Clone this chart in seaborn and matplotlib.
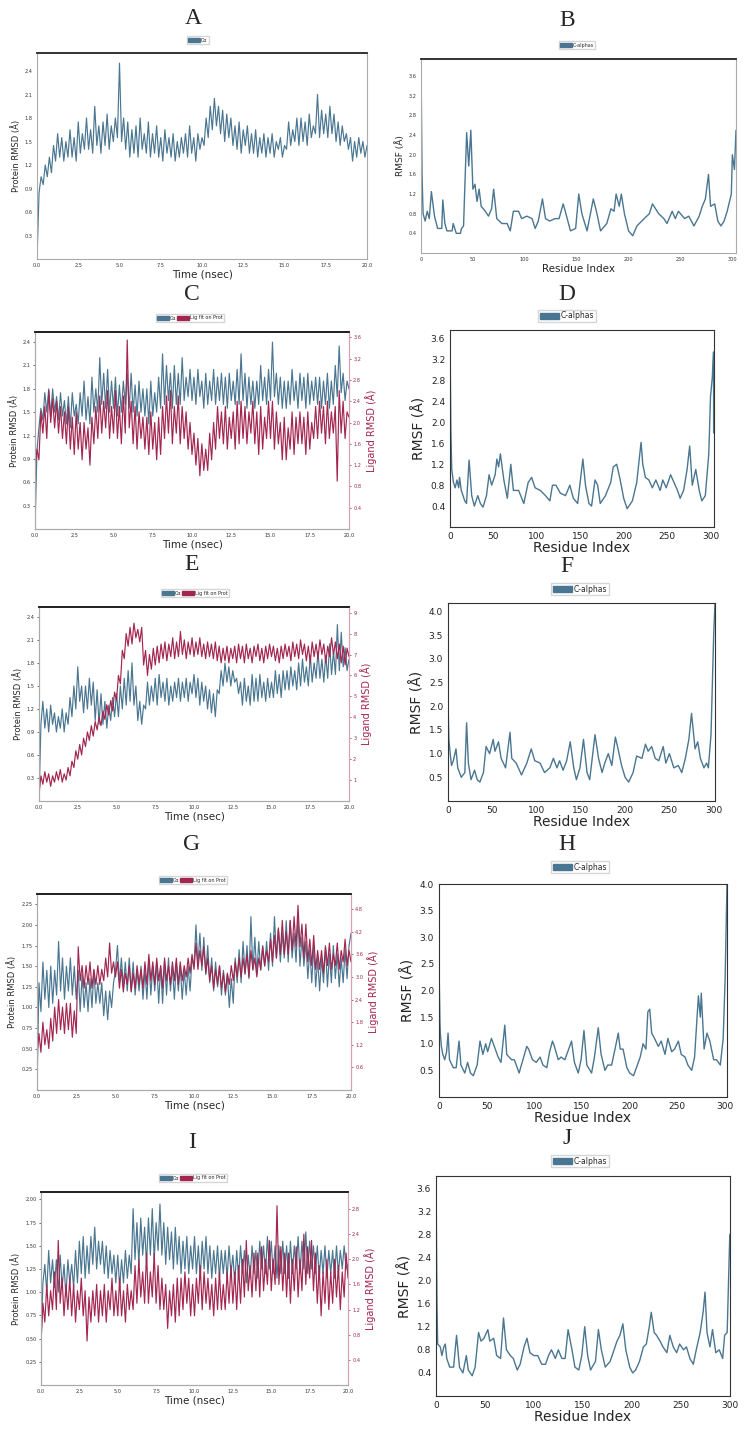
import numpy as np
import pandas as pd
import matplotlib
matplotlib.use("Agg")
import matplotlib.pyplot as plt
import matplotlib.patches as mpatches
import seaborn as sns

sns.set_style("white")
plt.rcParams['font.family'] = ['DejaVu Sans']

W, H = 747, 1433
PROT = '#4a7691'
LIG = '#a3264f'

# ---------------- RMSD data (0-20 ns, read every 0.125 ns; one row per ns) ----------------
rmsd_a = [0.0, 0.85, 1.05, 0.95, 1.2, 1.05, 1.3, 1.1,
          1.45, 1.25, 1.6, 1.3, 1.55, 1.25, 1.5, 1.3,
          1.65, 1.3, 1.55, 1.25, 1.75, 1.35, 1.6, 1.4,
          1.8, 1.4, 1.65, 1.35, 1.95, 1.45, 1.7, 1.35,
          1.75, 1.45, 1.85, 1.4, 1.7, 1.5, 1.8, 1.55,
          2.5, 1.5, 1.8, 1.4, 1.75, 1.3, 1.65, 1.35,
          1.7, 1.3, 1.8, 1.4, 1.6, 1.35, 1.75, 1.3,
          1.6, 1.35, 1.7, 1.3, 1.55, 1.25, 1.65, 1.35,
          1.55, 1.3, 1.6, 1.25, 1.5, 1.3, 1.55, 1.35,
          1.6, 1.3, 1.7, 1.35, 1.55, 1.25, 1.6, 1.4,
          1.55, 1.45, 1.8, 1.55, 1.95, 1.65, 2.05, 1.7,
          1.95, 1.6, 1.9, 1.5, 1.85, 1.55, 1.8, 1.45,
          1.7, 1.4, 1.75, 1.35, 1.65, 1.45, 1.7, 1.35,
          1.6, 1.35, 1.65, 1.3, 1.55, 1.35, 1.6, 1.3,
          1.55, 1.35, 1.6, 1.3, 1.5, 1.4, 1.55, 1.3,
          1.45, 1.4, 1.75, 1.45, 1.65, 1.5, 1.8, 1.45,
          1.8, 1.5, 1.75, 1.45, 1.85, 1.55, 1.7, 1.6,
          2.1, 1.55, 1.9, 1.6, 1.85, 1.55, 1.95, 1.6,
          1.85, 1.5, 1.75, 1.45, 1.7, 1.5, 1.6, 1.4,
          1.55, 1.25, 1.5, 1.3, 1.55, 1.35, 1.5, 1.3,
          1.45]

prot_c = [0.0, 1.0, 1.3, 1.55, 1.4, 1.75, 1.5, 1.8,
          1.45, 1.8, 1.5, 1.7, 1.4, 1.75, 1.45, 1.65,
          1.35, 1.7, 1.3, 1.75, 1.45, 1.6, 1.35, 1.75,
          1.45, 1.9, 1.4, 1.7, 1.35, 1.95, 1.5, 1.8,
          1.5, 2.2, 1.6, 2.0, 1.55, 2.05, 1.5, 1.9,
          1.55, 1.95, 1.45, 1.85, 1.5, 1.9, 1.6, 2.0,
          1.55, 2.0, 1.5, 1.85, 1.45, 1.9, 1.5, 1.8,
          1.45, 1.8, 1.35, 1.9, 1.45, 1.75, 1.5, 1.95,
          1.55, 2.25, 1.6, 2.1, 1.65, 2.0, 1.55, 2.1,
          1.6, 2.0, 1.6, 2.2, 1.65, 1.95, 1.7, 2.05,
          1.65, 1.95, 1.6, 2.05, 1.7, 1.9, 1.55, 2.0,
          1.6, 1.9, 1.65, 2.05, 1.6, 1.95, 1.65, 2.0,
          1.6, 1.95, 1.55, 2.0, 1.65, 1.9, 1.6, 2.05,
          1.6, 2.25, 1.65, 2.0, 1.55, 1.95, 1.6, 1.9,
          1.55, 1.9, 1.6, 2.1, 1.65, 1.95, 1.6, 2.05,
          1.65, 2.4, 1.7, 2.0, 1.6, 1.95, 1.55, 1.9,
          1.55, 1.9, 1.6, 2.05, 1.65, 1.9, 1.55, 2.0,
          1.65, 1.95, 1.55, 2.0, 1.6, 1.9, 1.65, 1.95,
          1.6, 1.95, 1.55, 1.9, 1.6, 2.0, 1.55, 1.9,
          1.6, 2.1, 1.7, 2.35, 1.75, 2.0, 1.65, 1.9,
          1.8]
lig_c = [1.1, 1.5, 1.3, 2.2, 1.8, 2.3, 1.7, 2.6,
         2.0, 2.45, 1.9, 2.4, 1.8, 2.3, 1.7, 2.2,
         1.6, 2.3, 1.5, 2.1, 1.4, 2.2, 1.5, 2.0,
         1.3, 2.0, 1.5, 1.9, 1.2, 2.1, 1.6, 2.3,
         1.7, 2.5, 1.8, 2.4, 1.9, 2.6, 1.7, 2.3,
         1.8, 2.6, 1.7, 2.3, 1.6, 2.5, 1.8, 3.55,
         1.9, 2.4, 1.6, 2.3, 1.5, 2.2, 1.7, 2.1,
         1.5, 2.1, 1.4, 2.2, 1.5, 2.0, 1.3, 2.1,
         1.4, 2.3, 1.7, 2.5, 1.8, 2.6, 1.6, 2.3,
         1.8, 2.5, 1.6, 2.3, 1.7, 2.2, 1.5, 2.0,
         1.4, 1.8, 1.2, 1.7, 1.0, 1.6, 1.1, 1.5,
         1.1, 1.8, 1.3, 2.0, 1.5, 2.3, 1.7, 2.2,
         1.6, 2.3, 1.5, 2.1, 1.7, 2.2, 1.5, 2.4,
         1.6, 2.4, 1.7, 2.3, 1.6, 2.2, 1.8, 2.4,
         1.6, 2.2, 1.4, 2.3, 1.5, 2.1, 1.7, 2.4,
         1.7, 2.4, 1.5, 2.2, 1.6, 2.0, 1.3, 2.1,
         1.3, 1.9, 1.5, 2.2, 1.4, 2.1, 1.6, 2.2,
         1.6, 2.1, 1.4, 2.2, 1.5, 2.0, 1.7, 2.3,
         1.7, 2.4, 1.8, 2.3, 1.6, 2.4, 1.7, 2.2,
         1.8, 2.3, 0.9, 2.6, 1.8, 2.4, 1.7, 2.2,
         2.1]

prot_e = [0.0, 1.0, 1.3, 0.95, 1.2, 0.9, 1.25, 1.0,
          1.15, 0.9, 1.1, 0.95, 1.2, 0.9, 1.15, 1.0,
          1.35, 1.1, 1.5, 1.2, 1.75, 1.3, 1.5, 1.15,
          1.5, 1.2, 1.6, 1.25, 1.55, 1.05, 1.45, 1.0,
          1.4, 1.0, 1.3, 0.95, 1.25, 1.05, 1.35, 1.1,
          1.4, 1.1, 1.5, 1.2, 1.6, 1.25, 1.7, 1.3,
          1.8, 1.25, 1.5, 1.05, 1.3, 1.0, 1.25, 1.2,
          1.55, 1.25, 1.5, 1.3, 1.6, 1.25, 1.65, 1.35,
          1.55, 1.3, 1.6, 1.25, 1.5, 1.3, 1.55, 1.35,
          1.6, 1.3, 1.55, 1.35, 1.6, 1.3, 1.55, 1.4,
          1.65, 1.35, 1.6, 1.25, 1.55, 1.3, 1.5, 1.2,
          1.45, 1.15, 1.4, 1.1, 1.45, 1.4, 1.7, 1.5,
          1.8, 1.55, 1.75, 1.5, 1.7, 1.55, 1.6, 1.4,
          1.55, 1.25, 1.6, 1.3, 1.5, 1.25, 1.65, 1.3,
          1.6, 1.3, 1.65, 1.35, 1.55, 1.3, 1.6, 1.35,
          1.55, 1.35, 1.7, 1.4, 1.65, 1.35, 1.7, 1.45,
          1.7, 1.45, 1.75, 1.5, 1.7, 1.45, 1.8, 1.5,
          1.85, 1.55, 1.75, 1.5, 1.9, 1.55, 1.8, 1.6,
          1.95, 1.6, 1.85, 1.55, 1.9, 1.6, 2.05, 1.65,
          1.95, 1.65, 2.3, 1.7, 2.2, 1.75, 2.0, 1.7,
          1.85]
lig_e = [0.3, 1.2, 0.8, 1.4, 0.9, 1.3, 0.7, 1.2,
         0.9, 1.4, 1.0, 1.5, 0.9, 1.3, 1.0, 1.6,
         1.2, 1.9, 1.6, 2.4, 2.0, 2.7, 2.2, 3.0,
         2.6, 3.3, 2.9, 3.6, 3.1, 3.8, 3.4, 4.0,
         3.6, 4.3, 3.9, 4.6, 4.1, 4.8, 4.3, 5.2,
         4.8, 6.0, 5.6, 7.2, 6.8, 8.0, 7.4, 8.3,
         7.5, 8.5, 7.8, 8.2, 7.6, 8.3, 6.5, 7.2,
         6.0, 7.0, 6.3, 7.3, 6.5, 7.4, 6.6, 7.5,
         6.8, 7.6, 6.7, 7.5, 6.9, 7.8, 6.8, 7.6,
         6.9, 8.1, 7.0, 7.7, 6.8, 7.6, 7.0, 7.8,
         6.9, 7.6, 7.0, 7.8, 6.9, 7.5, 6.8, 7.6,
         6.9, 7.5, 6.8, 7.6, 6.7, 7.4, 6.6, 7.3,
         6.7, 7.4, 6.6, 7.3, 6.8, 7.4, 6.6, 7.5,
         6.8, 7.4, 6.6, 7.5, 6.8, 7.3, 6.6, 7.4,
         6.9, 7.5, 6.7, 7.3, 6.6, 7.4, 6.8, 7.5,
         6.9, 7.4, 6.7, 7.3, 6.6, 7.4, 6.8, 7.5,
         6.9, 7.4, 6.7, 7.6, 6.9, 7.5, 6.8, 7.7,
         7.0, 7.5, 6.7, 7.4, 6.6, 7.6, 6.9, 7.5,
         6.8, 7.7, 7.0, 7.5, 6.6, 7.4, 6.9, 7.8,
         7.0, 7.6, 6.8, 7.5, 6.6, 7.4, 6.5, 7.3,
         6.9]

prot_g = [0.0, 1.3, 0.95, 1.55, 1.1, 1.45, 1.0, 1.5,
          1.05, 1.45, 1.15, 1.8, 1.2, 1.6, 1.1, 1.5,
          1.2, 1.6, 1.15, 1.5, 1.1, 1.45, 0.95, 1.4,
          1.0, 1.3, 0.95, 1.35, 1.0, 1.45, 1.05, 1.3,
          1.05, 1.3, 0.9, 1.2, 0.85, 1.2, 1.0, 1.3,
          1.45, 1.75, 1.3, 1.6, 1.25, 1.55, 1.2, 1.6,
          1.2, 1.55, 1.15, 1.45, 1.2, 1.5, 1.1, 1.45,
          1.1, 1.6, 1.15, 1.5, 1.2, 1.55, 1.05, 1.5,
          1.05, 1.55, 1.15, 1.6, 1.2, 1.5, 1.1, 1.55,
          1.2, 1.5, 1.1, 1.45, 1.15, 1.5, 1.2, 1.6,
          1.5, 2.0, 1.5, 1.9, 1.45, 1.85, 1.4, 1.75,
          1.3, 1.6, 1.2, 1.55, 1.25, 1.5, 1.15, 1.45,
          1.15, 1.4, 1.0, 1.35, 1.05, 1.6, 1.3, 1.7,
          1.3, 1.8, 1.4, 1.75, 1.35, 2.1, 1.45, 1.85,
          1.4, 1.8, 1.45, 1.75, 1.5, 1.8, 1.45, 1.9,
          1.5, 2.1, 1.6, 1.95, 1.55, 1.9, 1.6, 2.05,
          1.55, 2.05, 1.6, 1.9, 1.55, 2.1, 1.5, 1.85,
          1.5, 1.8, 1.35, 1.7, 1.3, 1.75, 1.25, 1.6,
          1.2, 1.6, 1.3, 1.75, 1.25, 1.65, 1.3, 1.75,
          1.35, 1.65, 1.25, 1.6, 1.3, 1.7, 1.35, 1.75,
          1.9]
lig_g = [0.9, 1.5, 1.0, 1.8, 1.2, 1.6, 1.1, 1.9,
         1.3, 2.2, 1.5, 2.4, 1.6, 2.2, 1.5, 2.3,
         1.6, 2.3, 1.4, 2.1, 1.5, 3.8, 2.9, 3.3,
         2.7, 3.3, 2.8, 3.4, 2.7, 3.2, 2.8, 3.3,
         2.8, 3.2, 2.9, 3.5, 3.0, 3.9, 3.1, 3.4,
         3.0, 3.4, 2.7, 3.2, 2.6, 3.1, 2.8, 3.3,
         2.6, 3.1, 2.7, 3.3, 2.8, 3.2, 2.7, 3.4,
         2.8, 3.6, 2.9, 3.4, 2.8, 3.5, 2.9, 3.3,
         2.7, 3.5, 2.9, 3.3, 2.8, 3.4, 2.9, 3.5,
         2.8, 3.4, 2.9, 3.3, 3.0, 3.5, 3.1, 3.6,
         3.2, 3.9, 3.2, 3.7, 3.3, 3.8, 3.1, 3.5,
         2.9, 3.3, 2.7, 3.2, 2.8, 3.3, 2.7, 3.1,
         2.6, 3.1, 2.8, 3.3, 2.9, 3.4, 3.0, 3.5,
         3.0, 3.5, 3.1, 3.6, 3.0, 3.7, 3.2, 3.5,
         3.0, 3.5, 3.2, 3.8, 3.3, 3.7, 3.4, 4.0,
         3.4, 4.1, 3.5, 4.3, 3.6, 4.5, 3.6, 4.2,
         3.6, 4.5, 3.7, 4.6, 3.8, 4.9, 3.8, 4.4,
         3.5, 4.4, 3.4, 4.0, 3.3, 4.1, 3.2, 3.7,
         3.2, 3.7, 3.1, 3.8, 3.3, 3.9, 3.2, 3.6,
         3.3, 3.9, 3.2, 3.7, 3.4, 4.0, 3.3, 3.7,
         3.4]

prot_i = [0.45, 1.1, 1.3, 1.0, 1.45, 1.1, 1.35, 1.05,
          1.35, 1.0, 1.4, 1.05, 1.3, 0.95, 1.35, 1.1,
          1.3, 1.05, 1.45, 1.1, 1.55, 1.2, 1.6, 1.15,
          1.5, 1.2, 1.6, 1.3, 1.7, 1.25, 1.55, 1.3,
          1.55, 1.2, 1.5, 1.15, 1.45, 1.2, 1.4, 1.1,
          1.4, 1.05, 1.35, 1.1, 1.45, 1.15, 1.4, 1.2,
          1.9, 1.35, 1.75, 1.3, 1.8, 1.4, 1.7, 1.3,
          1.8, 1.4, 1.9, 1.35, 1.75, 1.45, 1.95, 1.4,
          1.75, 1.3, 1.7, 1.35, 1.65, 1.25, 1.7, 1.3,
          1.6, 1.2, 1.55, 1.25, 1.6, 1.2, 1.5, 1.25,
          1.6, 1.2, 1.5, 1.15, 1.55, 1.25, 1.6, 1.2,
          1.5, 1.15, 1.45, 1.2, 1.5, 1.15, 1.45, 1.2,
          1.45, 1.15, 1.5, 1.2, 1.4, 1.1, 1.45, 1.15,
          1.5, 1.2, 1.45, 1.1, 1.4, 1.15, 1.5, 1.2,
          1.45, 1.15, 1.55, 1.25, 1.5, 1.2, 1.6, 1.25,
          1.55, 1.2, 1.5, 1.15, 1.5, 1.2, 1.55, 1.2,
          1.5, 1.15, 1.55, 1.2, 1.5, 1.25, 1.6, 1.2,
          1.55, 1.25, 1.65, 1.2, 1.55, 1.25, 1.5, 1.2,
          1.5, 1.15, 1.45, 1.2, 1.5, 1.15, 1.45, 1.2,
          1.45, 1.15, 1.5, 1.2, 1.45, 1.25, 1.5, 1.25,
          1.3]
lig_i = [0.65, 1.3, 1.0, 1.6, 1.1, 1.5, 1.2, 1.8,
         1.2, 2.3, 1.3, 1.7, 1.1, 1.6, 1.2, 1.7,
         1.1, 1.6, 1.0, 1.5, 1.2, 1.7, 1.1, 1.5,
         0.7, 1.4, 1.0, 1.5, 1.1, 1.6, 1.0, 1.5,
         1.1, 1.6, 1.0, 1.5, 1.2, 1.7, 1.1, 1.5,
         1.1, 1.7, 1.1, 1.5, 1.0, 1.6, 1.2, 1.5,
         1.2, 1.9, 1.3, 2.0, 1.4, 1.8, 1.3, 2.1,
         1.3, 1.8, 1.4, 2.1, 1.3, 1.9, 1.2, 1.7,
         1.2, 1.6, 0.9, 1.5, 1.1, 1.6, 1.0, 1.7,
         1.1, 1.7, 1.2, 1.8, 1.3, 1.7, 1.1, 1.6,
         1.1, 1.7, 1.3, 1.9, 1.2, 1.8, 1.3, 1.7,
         1.2, 1.6, 1.1, 1.7, 1.2, 1.8, 1.2, 1.6,
         1.2, 1.8, 1.3, 1.9, 1.3, 1.8, 1.2, 1.9,
         1.3, 2.0, 1.4, 2.3, 1.5, 1.9, 1.4, 2.1,
         1.5, 2.1, 1.4, 2.2, 1.5, 2.0, 1.6, 2.3,
         1.5, 2.0, 1.6, 2.85, 1.6, 2.2, 1.5, 2.1,
         1.4, 2.1, 1.3, 2.0, 1.5, 2.2, 1.4, 2.0,
         1.5, 2.4, 1.6, 2.2, 1.7, 2.3, 1.5, 2.1,
         1.3, 1.9, 1.1, 1.8, 1.3, 2.0, 1.2, 1.8,
         1.3, 2.0, 1.4, 1.9, 1.2, 1.8, 1.4, 2.1,
         1.7]

time_ticks = [0, 2.5, 5, 7.5, 10, 12.5, 15, 17.5, 20]

# ---------------- RMSF data (residue, RMSF) ----------------
rmsf_b = [(0, 3.9), (1, 1.6), (2, 0.8), (4, 0.65), (6, 0.85), (8, 0.7), (10, 1.25), (13, 0.75),
          (16, 0.5), (20, 0.5), (21, 1.08), (23, 0.6), (25, 0.45), (30, 0.45), (31, 0.6), (34, 0.4),
          (38, 0.4), (39, 0.5), (41, 0.55), (42, 1.2), (44, 2.45), (46, 1.77), (48, 2.5), (50, 1.3),
          (52, 1.4), (54, 1.05), (56, 1.3), (58, 0.95), (62, 0.85), (65, 0.75), (68, 0.9), (70, 1.3),
          (73, 0.7), (78, 0.6), (83, 0.6), (86, 0.45), (89, 0.85), (94, 0.85), (97, 0.7), (102, 0.75),
          (107, 0.7), (110, 0.5), (113, 0.65), (117, 1.1), (120, 0.7), (124, 0.65), (129, 0.7),
          (133, 0.7), (137, 1.0), (139, 0.85), (144, 0.45), (149, 0.5), (152, 1.2), (155, 0.8),
          (160, 0.45), (166, 1.1), (169, 0.85), (173, 0.45), (179, 0.6), (183, 0.9), (186, 0.85),
          (188, 1.2), (191, 0.95), (193, 1.2), (196, 0.8), (200, 0.45), (204, 0.35), (208, 0.55),
          (215, 0.7), (220, 0.8), (223, 1.0), (226, 0.9), (229, 0.8), (234, 0.7), (237, 0.6),
          (242, 0.85), (245, 0.7), (248, 0.85), (254, 0.7), (258, 0.75), (263, 0.55), (268, 0.75),
          (271, 0.95), (274, 1.1), (277, 1.6), (279, 0.95), (283, 1.0), (286, 0.65), (289, 0.55),
          (292, 0.65), (295, 0.85), (299, 1.2), (300, 2.0), (302, 1.7), (303.5, 2.5)]

rmsf_d = [(0, 3.6), (1, 1.86), (2, 1.1), (4, 0.85), (6, 0.75), (8, 0.9), (10, 0.75), (11, 0.95),
          (13, 0.7), (17, 0.5), (19, 0.45), (22, 1.28), (25, 0.6), (28, 0.4), (32, 0.6), (35, 0.45),
          (38, 0.38), (42, 0.6), (45, 1.0), (48, 0.8), (52, 1.0), (54, 1.3), (56, 1.15), (58, 1.4),
          (62, 0.9), (66, 0.55), (70, 1.2), (73, 0.7), (79, 0.7), (85, 0.45), (90, 0.85), (94, 0.95),
          (98, 0.75), (104, 0.7), (110, 0.6), (115, 0.5), (118, 0.8), (122, 0.8), (127, 0.65),
          (133, 0.6), (138, 0.8), (142, 0.55), (147, 0.45), (153, 1.3), (156, 0.8), (160, 0.45),
          (163, 0.4), (167, 0.9), (170, 0.8), (173, 0.45), (179, 0.6), (185, 0.85), (188, 1.15),
          (192, 1.2), (196, 0.9), (200, 0.55), (204, 0.35), (210, 0.5), (215, 0.85), (220, 1.62),
          (222, 1.2), (225, 0.95), (229, 0.9), (233, 0.75), (237, 0.9), (242, 0.7), (245, 0.9),
          (249, 0.75), (254, 1.0), (258, 0.85), (262, 0.7), (265, 0.55), (269, 0.7), (273, 1.1),
          (276, 1.55), (279, 0.8), (283, 1.1), (287, 0.7), (290, 0.5), (294, 0.6), (298, 1.4),
          (300, 2.5), (302, 2.85), (303.5, 3.35), (303.6, 1.8)]

rmsf_f = [(0, 2.1), (1, 1.3), (3, 0.9), (4, 0.75), (6, 0.85), (9, 1.1), (11, 0.7), (15, 0.5),
          (19, 0.6), (21, 1.65), (23, 0.8), (26, 0.45), (30, 0.65), (33, 0.45), (36, 0.4), (40, 0.6),
          (43, 1.15), (47, 1.0), (51, 1.3), (53, 1.05), (57, 1.25), (60, 0.9), (65, 0.7), (70, 1.45),
          (72, 0.9), (77, 0.8), (83, 0.55), (89, 0.8), (94, 1.1), (98, 0.85), (104, 0.8), (109, 0.6),
          (115, 0.7), (119, 0.9), (123, 0.7), (126, 0.85), (130, 0.65), (134, 0.85), (138, 1.25),
          (142, 0.7), (145, 0.45), (149, 0.7), (153, 1.3), (157, 0.6), (160, 0.45), (166, 1.4),
          (170, 0.9), (174, 0.6), (177, 0.8), (181, 1.0), (185, 0.75), (189, 1.35), (192, 1.1),
          (196, 0.75), (200, 0.5), (204, 0.4), (209, 0.6), (213, 0.95), (219, 0.9), (223, 1.2),
          (226, 1.05), (230, 1.15), (234, 0.9), (238, 0.85), (243, 1.15), (246, 0.8), (250, 1.0),
          (255, 0.7), (260, 0.75), (264, 0.6), (268, 0.9), (272, 1.3), (275, 1.85), (279, 1.1),
          (282, 1.25), (285, 0.9), (289, 0.7), (292, 0.8), (294, 0.7), (297, 1.4), (300, 3.5),
          (301.5, 4.2)]

rmsf_h = [(0, 2.5), (1, 1.4), (1.4, 1.2), (2.5, 0.95), (4, 0.8), (6, 0.7), (8, 0.85), (9.5, 1.2),
          (11, 0.7), (15, 0.55), (18, 0.55), (21, 1.05), (23, 0.6), (27, 0.45), (30, 0.65),
          (33, 0.45), (36, 0.4), (40, 0.6), (43, 1.05), (46, 0.8), (49, 1.0), (51, 0.85), (55, 1.1),
          (58, 0.95), (62, 0.75), (65, 0.65), (69, 1.35), (71, 0.8), (76, 0.7), (79, 0.7), (84, 0.45),
          (88, 0.7), (92, 0.95), (94, 0.9), (98, 0.7), (102, 0.65), (106, 0.75), (109, 0.6),
          (113, 0.55), (116, 0.85), (119, 1.05), (121, 0.95), (125, 0.7), (128, 0.75), (132, 0.7),
          (135, 0.85), (139, 1.05), (142, 0.65), (146, 0.45), (149, 0.7), (152, 1.25), (155, 0.6),
          (160, 0.45), (163, 0.75), (167, 1.3), (170, 0.8), (174, 0.5), (177, 0.6), (181, 0.6),
          (184, 0.85), (188, 1.2), (190, 0.9), (193, 0.9), (197, 0.55), (200, 0.45), (204, 0.4),
          (207, 0.55), (211, 0.75), (214, 1.0), (217, 0.9), (219, 1.6), (221, 1.65), (223, 1.2),
          (226, 1.1), (230, 0.95), (233, 1.05), (237, 0.8), (240, 1.1), (244, 0.85), (247, 0.9),
          (251, 1.05), (254, 0.8), (258, 0.75), (261, 0.6), (265, 0.5), (268, 0.75), (272, 1.9),
          (274, 1.5), (275, 1.95), (278, 0.9), (281, 1.2), (284, 1.05), (288, 0.7), (291, 0.7),
          (295, 0.6), (298, 1.1), (300, 2.2), (302, 4.0)]

rmsf_j = [(0, 3.8), (1, 1.6), (1.7, 0.9), (4.4, 0.85), (6, 0.7), (8, 0.85), (9.5, 0.9), (11, 0.65),
          (14, 0.5), (18, 0.5), (21, 1.05), (24, 0.5), (27.5, 0.4), (31, 0.7), (33, 0.45),
          (37, 0.35), (40, 0.5), (43.5, 1.1), (46, 0.95), (49, 1.0), (53, 1.15), (55, 0.95),
          (59, 1.0), (62, 0.7), (66, 0.65), (69, 1.35), (72, 0.8), (76, 0.7), (79, 0.65), (83, 0.45),
          (86, 0.55), (90, 0.85), (93, 1.0), (96, 0.75), (100, 0.7), (104, 0.7), (108, 0.55),
          (112, 0.55), (115, 0.7), (118, 0.8), (122, 0.65), (125, 0.8), (128.6, 0.65), (132, 0.65),
          (135, 1.15), (139, 0.8), (142, 0.5), (146, 0.45), (149, 0.7), (152, 1.2), (155, 0.7),
          (158, 0.45), (163, 0.6), (166, 1.15), (169, 0.8), (173, 0.5), (178, 0.6), (181, 0.75),
          (185, 0.95), (188, 1.05), (191, 1.25), (194, 0.8), (198, 0.5), (201, 0.4), (204, 0.45),
          (208, 0.6), (212, 0.85), (215, 0.9), (218, 1.2), (220, 1.45), (223, 1.1), (225.5, 1.05),
          (229, 0.95), (232, 0.85), (236, 0.75), (239, 1.05), (242.5, 0.85), (246, 0.75),
          (249, 0.9), (253, 0.8), (256, 0.85), (259.5, 0.65), (263, 0.55), (266, 0.8), (270, 1.1),
          (273, 1.45), (275, 1.8), (277, 1.1), (280, 0.85), (282.6, 1.15), (286, 0.75),
          (289.5, 0.8), (293, 0.65), (295, 1.05), (297.6, 1.1), (300.3, 2.8)]

res_ticks = [0, 50, 100, 150, 200, 250, 300]

# ---------------- figure ----------------
fig = plt.figure(figsize=(W / 100, H / 100), dpi=100)


def rect(l, t, r, b):
    return [l / W, 1 - b / H, (r - l) / W, (b - t) / H]


def letter(x, y, s):
    fig.text(x / W, 1 - y / H, s, ha='center', va='center',
             family='Liberation Serif', fontsize=17)


def legend(labels, colors, x, y, fs):
    handles = [mpatches.Patch(color=c, label=l) for l, c in zip(labels, colors)]
    fig.legend(handles=handles, loc='center', bbox_to_anchor=(x / W, 1 - y / H),
               ncol=len(labels), fontsize=fs, frameon=True, fancybox=False,
               edgecolor='#cccccc', handlelength=2.4, handleheight=0.8,
               handletextpad=0.2, columnspacing=0.2, borderpad=0.25)


def frame(ax):
    for side in ['left', 'bottom', 'right']:
        ax.spines[side].set_color('#aaaaaa')
        ax.spines[side].set_linewidth(0.8)
    ax.spines['top'].set_color('#222222')
    ax.spines['top'].set_linewidth(1.3)


def rmsd_panel(box, prot, ylim, yticks, fmt, lig=None, rylim=None, ryticks=None, rfmt=None):
    ax = fig.add_axes(rect(*box))
    df = pd.DataFrame({'time': np.linspace(0, 20, len(prot)), 'rmsd': prot})
    sns.lineplot(data=df, x='time', y='rmsd', ax=ax, color=PROT, lw=0.85)
    ax.set_xlim(0, 20)
    ax.set_ylim(*ylim)
    ax.set_xticks(time_ticks)
    ax.set_xticklabels([f'{v:.1f}' for v in time_ticks])
    ax.set_yticks(yticks)
    ax.set_yticklabels([fmt.format(v) for v in yticks])
    ax.tick_params(labelsize=3.6, length=1.5, width=0.5, pad=1.5, colors='#333333')
    ax.set_xlabel('Time (nsec)', fontsize=7.5, labelpad=1)
    ax.set_ylabel('Protein RMSD (Å)', fontsize=6, labelpad=3)
    frame(ax)
    if lig is not None:
        ax2 = ax.twinx()
        dl = pd.DataFrame({'time': np.linspace(0, 20, len(lig)), 'rmsd': lig})
        sns.lineplot(data=dl, x='time', y='rmsd', ax=ax2, color=LIG, lw=0.85)
        ax2.set_ylim(*rylim)
        ax2.set_yticks(ryticks)
        ax2.set_yticklabels([rfmt.format(v) for v in ryticks])
        ax2.tick_params(labelsize=3.6, length=1.5, width=0.5, pad=1.5, colors=LIG)
        ax2.set_ylabel('Ligand RMSD (Å)', fontsize=7, color=LIG, labelpad=3)
        frame(ax2)
        ax2.spines['right'].set_color('#d9a0b4')
    return ax


def rmsf_panel(box, pts, xmax, ylim, yticks, fmt, small=False):
    ax = fig.add_axes(rect(*box))
    df = pd.DataFrame(pts, columns=['residue', 'rmsf'])
    sns.lineplot(data=df, x='residue', y='rmsf', ax=ax, color=PROT, lw=1.0,
                 sort=False, estimator=None)
    ax.set_xlim(0, xmax)
    ax.set_ylim(*ylim)
    ax.set_xticks(res_ticks)
    ax.set_yticks(yticks)
    ax.set_yticklabels([fmt.format(v) for v in yticks])
    if small:
        ax.tick_params(labelsize=3.6, length=1.5, width=0.5, pad=1.5, colors='#333333')
        ax.set_xlabel('Residue Index', fontsize=7.5, labelpad=1)
        ax.set_ylabel('RMSF (Å)', fontsize=6.5, labelpad=3)
        frame(ax)
    else:
        ax.tick_params(labelsize=6.5, length=2, width=0.6, pad=1.5, colors='#222222')
        ax.set_xlabel('Residue Index', fontsize=10, labelpad=0)
        ax.set_ylabel('RMSF (Å)', fontsize=10, labelpad=3)
        for s in ax.spines.values():
            s.set_color('#333333')
            s.set_linewidth(0.8)
    return ax


# A
letter(193, 18, 'A')
rmsd_panel((37, 53, 367, 259), rmsd_a, (0, 2.63), [0.3, 0.6, 0.9, 1.2, 1.5, 1.8, 2.1, 2.4], '{:.1f}')
legend(['Cα'], [PROT], 198, 40, 3.5)

# B
letter(567, 20, 'B')
rmsf_panel((421, 59, 736, 253), rmsf_b, 303.5, (0, 3.95),
           [0.4, 0.8, 1.2, 1.6, 2.0, 2.4, 2.8, 3.2, 3.6], '{:.1f}', small=True)
legend(['C-alphas'], [PROT], 577, 45, 3.5)

# C
letter(192, 295, 'C')
rmsd_panel((35, 332, 349, 529), prot_c, (0, 2.53), [0.3, 0.6, 0.9, 1.2, 1.5, 1.8, 2.1, 2.4], '{:.1f}',
           lig_c, (0, 3.7), [0.4, 0.8, 1.2, 1.6, 2.0, 2.4, 2.8, 3.2, 3.6], '{:.1f}')
legend(['Cα', 'Lig fit on Prot'], [PROT, LIG], 190, 318, 3.5)

# D
letter(567, 295, 'D')
rmsf_panel((450, 330, 714, 527), rmsf_d, 304, (0, 3.77),
           [0.4, 0.8, 1.2, 1.6, 2.0, 2.4, 2.8, 3.2, 3.6], '{:.1f}')
legend(['C-alphas'], [PROT], 567, 316, 5.5)

# E
letter(192, 564, 'E')
rmsd_panel((39, 607, 349, 801), prot_e, (0, 2.53), [0.3, 0.6, 0.9, 1.2, 1.5, 1.8, 2.1, 2.4], '{:.1f}',
           lig_e, (0, 9.27), [1, 2, 3, 4, 5, 6, 7, 8, 9], '{:d}')
legend(['Cα', 'Lig fit on Prot'], [PROT, LIG], 195, 593, 3.5)

# F
letter(567, 566, 'F')
rmsf_panel((448, 603, 715, 801), rmsf_f, 301.5, (0, 4.18),
           [0.5, 1.0, 1.5, 2.0, 2.5, 3.0, 3.5, 4.0], '{:.1f}')
legend(['C-alphas'], [PROT], 580, 589, 5.5)

# G
letter(192, 845, 'G')
rmsd_panel((37, 894, 351, 1090), prot_g, (0, 2.375),
           [0.25, 0.5, 0.75, 1.0, 1.25, 1.5, 1.75, 2.0, 2.25], '{:.2f}',
           lig_g, (0, 5.2), [0.6, 1.2, 1.8, 2.4, 3.0, 3.6, 4.2, 4.8], '{:.1f}')
legend(['Cα', 'Lig fit on Prot'], [PROT, LIG], 193, 880, 3.5)

# H
letter(567, 844, 'H')
rmsf_panel((439, 884, 727, 1097), rmsf_h, 302, (0, 4.0),
           [0.5, 1.0, 1.5, 2.0, 2.5, 3.0, 3.5, 4.0], '{:.1f}')
legend(['C-alphas'], [PROT], 580, 867, 5.5)

# I
letter(192, 1142, 'I')
rmsd_panel((41, 1192, 348, 1385), prot_i, (0, 2.08),
           [0.25, 0.5, 0.75, 1.0, 1.25, 1.5, 1.75, 2.0], '{:.2f}',
           lig_i, (0, 3.07), [0.4, 0.8, 1.2, 1.6, 2.0, 2.4, 2.8], '{:.1f}')
legend(['Cα', 'Lig fit on Prot'], [PROT, LIG], 193, 1178, 3.5)

# J
letter(567, 1139, 'J')
rmsf_panel((436, 1176, 730, 1396), rmsf_j, 300.5, (0, 3.81),
           [0.4, 0.8, 1.2, 1.6, 2.0, 2.4, 2.8, 3.2, 3.6], '{:.1f}')
legend(['C-alphas'], [PROT], 580, 1161, 5.5)

fig.savefig('out.png', dpi=100)
